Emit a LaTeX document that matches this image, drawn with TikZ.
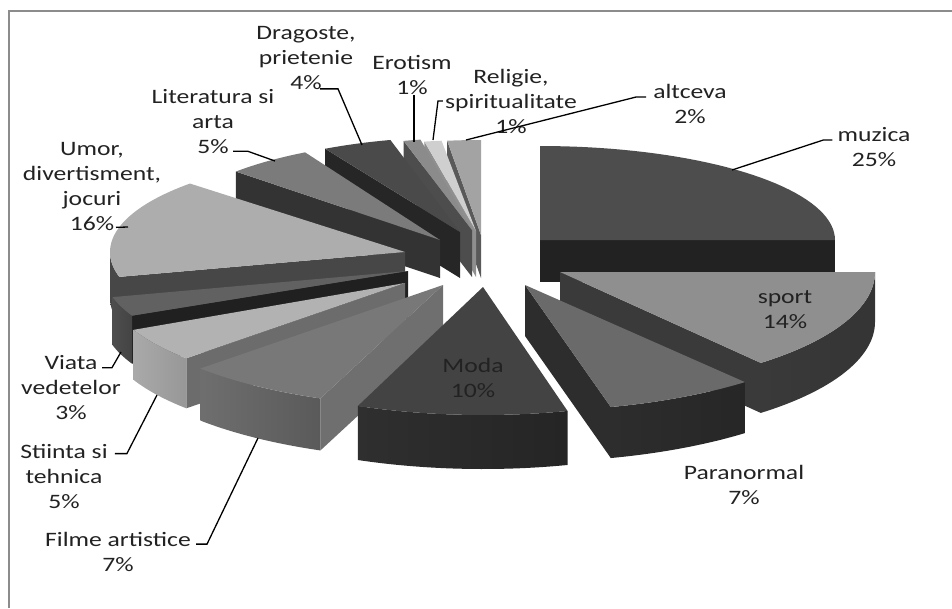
\documentclass[tikz,border=0pt]{standalone}
\usepackage{fontspec}
\setmainfont{Carlito}[FakeStretch=1.25]

\definecolor{framecol}{HTML}{8C8C8C}
\definecolor{labeltext}{HTML}{222222}
\definecolor{muztop}{HTML}{4D4D4D}\definecolor{muzface}{HTML}{222222}
\definecolor{alttop}{HTML}{A3A3A3}\definecolor{altface}{HTML}{595959}
\definecolor{reltop}{HTML}{CFCFCF}\definecolor{relface}{HTML}{8F8F8F}
\definecolor{erotop}{HTML}{8B8B8B}\definecolor{eroface}{HTML}{4D4D4D}
\definecolor{dragtop}{HTML}{4A4A4A}\definecolor{dragface}{HTML}{262626}
\definecolor{littop}{HTML}{7B7B7B}\definecolor{litface}{HTML}{333333}
\definecolor{umortop}{HTML}{ADADAD}\definecolor{umorface}{HTML}{474747}
\definecolor{viatop}{HTML}{616161}\definecolor{viaface}{HTML}{202020}
\definecolor{stitop}{HTML}{B2B2B2}\definecolor{stiface}{HTML}{6C6C6C}
\definecolor{filmtop}{HTML}{787878}\definecolor{filmface}{HTML}{6F6F6F}
\definecolor{sporttop}{HTML}{8F8F8F}\definecolor{sportface}{HTML}{3A3A3A}
\definecolor{paratop}{HTML}{6A6A6A}\definecolor{paraface}{HTML}{2D2D2D}
\definecolor{modatop}{HTML}{434343}

% slice: apex x, apex y, radius x, radius y, depth
\newcommand{\pset}[5]{\def\pcx{#1}\def\pcy{#2}\def\prx{#3}\def\pry{#4}\def\pdep{#5}}
% top face from angle #1 to #2
\newcommand{\ptop}[3]{\fill[#3] (\pcx,\pcy) -- plot[domain=#1:#2, samples=40] ({\pcx+\prx*cos(\x)},{\pcy-\pry*sin(\x)}) -- cycle;}
% cut face at angle #1
\newcommand{\pface}[2]{\fill[#2] (\pcx,\pcy) -- ({\pcx+\prx*cos(#1)},{\pcy-\pry*sin(#1)}) -- ++(0,\pdep) -- (\pcx,{\pcy+\pdep}) -- cycle;}
% outer wall from angle #1 to #2
\newcommand{\pwall}[4]{\shade[left color=#3, right color=#4] plot[domain=#1:#2, samples=40] ({\pcx+\prx*cos(\x)},{\pcy-\pry*sin(\x)}) -- plot[domain=#1:#2, samples=40] ({\pcx+\prx*cos((#1)+(#2)-\x)},{\pcy+\pdep-\pry*sin((#1)+(#2)-\x)}) -- cycle;}

\tikzset{
  lbl/.style={align=center, inner sep=0pt, text=labeltext, font=\fontsize{20.5}{25}\selectfont},
  leader/.style={draw=black, line width=1.3pt},
}

\begin{document}
\begin{tikzpicture}[x=1pt, y=-1pt]
    \useasboundingbox (0,0) rectangle (952,608);

    % Frame
    \draw[framecol, line width=2pt] (9,608) -- (9,11) -- (952,11);

    % Back slices
    \pset{540}{240}{295}{94}{42}
    \pface{0}{muzface}
    \ptop{0}{90}{muztop}

    \pset{481}{235}{270}{95}{43}
    \pface{97.2}{altface}
    \ptop{90}{97.2}{alttop}

    \pset{476}{231}{275}{91}{46}
    \pface{100.8}{relface}
    \ptop{97.2}{100.8}{reltop}

    \pset{472}{230}{275}{92}{47}
    \pface{104.4}{eroface}
    \ptop{100.8}{104.4}{erotop}

    \pset{460}{232}{280}{95}{46}
    \pface{118.8}{dragface}
    \ptop{104.4}{118.8}{dragtop}

    \pset{440}{240}{280}{100}{38}
    \pface{136.8}{litface}
    \ptop{118.8}{136.8}{littop}

    % Left slices
    \pset{405}{252}{295}{100}{46}
    \pface{-165.6}{umorface}
    \pwall{-180}{-165.6}{umorface}{umorface}
    \ptop{-223.2}{-165.6}{umortop}

    \pset{408}{271}{305}{105}{48}
    \pface{-154.8}{viaface}
    \pwall{-165.6}{-154.8}{viatop!80!black}{viatop!70!black}
    \ptop{-165.6}{-154.8}{viatop}

    \pset{405}{283}{300}{110}{50}
    \pface{-136.8}{stiface}
    \pwall{-154.8}{-136.8}{stitop!95!black}{stitop!85!black}
    \ptop{-154.8}{-136.8}{stitop}

    \pset{443}{285}{333}{122}{52}
    \pface{-111.6}{filmface}
    \pwall{-136.8}{-111.6}{filmtop!92!black}{filmtop!75!black}
    \ptop{-136.8}{-111.6}{filmtop}

    % Right slices
    \pset{560}{272}{315}{118}{50}
    \pface{-50.4}{sportface}
    \pwall{-50.4}{0}{sportface}{sportface!90!black}
    \ptop{-50.4}{0}{sporttop}

    \pset{525}{285}{345}{126}{51}
    \pface{-75.6}{paraface}
    \pwall{-75.6}{-50.4}{paraface}{paraface!85!black}
    \ptop{-75.6}{-50.4}{paratop}

    \pset{483}{287}{340}{128}{54}
    \pwall{-111.6}{-75.6}{modatop!70!black}{modatop!55!black}
    \ptop{-111.6}{-75.6}{modatop}

    % Labels
    \node[lbl] (lmuz) at (874,147) {muzica\\25\%};
    \node[lbl] (lsport) at (785,310) {sport\\14\%};
    \node[lbl] (lpara) at (744,485) {Paranormal\\7\%};
    \node[lbl] (lmoda) at (473,378) {Moda\\10\%};
    \node[lbl] (lfilme) at (118,552) {Filme artistice\\7\%};
    \node[lbl] (lstiinta) at (64,476) {Stiinta si\\tehnica\\5\%};
    \node[lbl] (lviata) at (71,388) {Viata\\vedetelor\\3\%};
    \node[lbl] (lumor) at (92,187) {Umor,\\divertisment,\\jocuri\\16\%};
    \node[lbl] (llit) at (213,122) {Literatura si\\arta\\5\%};
    \node[lbl] (ldrag) at (306,58) {Dragoste,\\prietenie\\4\%};
    \node[lbl] (lerot) at (412,75) {Erotism\\1\%};
    \node[lbl] (lrelig) at (511,101) {Religie,\\spiritualitate\\1\%};
    \node[lbl] (lalt) at (690,104) {altceva\\2\%};

    % Leader ends
    \coordinate (tmuz) at (732,170);
    \coordinate (talt) at (466,140);
    \coordinate (trelig) at (433,140);
    \coordinate (terot) at (414,142);
    \coordinate (tdrag) at (362,145);
    \coordinate (tlit) at (275,161);
    \coordinate (tumor) at (128,227);
    \coordinate (tviata) at (121,352);
    \coordinate (tstiinta) at (157,395);
    \coordinate (tfilme) at (258,438);

    % Leaders
    \draw[leader] ([xshift=-5pt,yshift=7pt]lmuz.west) -- ++(-9,0) -- (tmuz);
    \draw[leader] ([xshift=-7pt,yshift=7pt]lalt.west) -- ++(-10,0) -- (talt);
    \draw[leader] ([xshift=-2pt]lrelig.west) -- ++(-5,0) -- (trelig);
    \draw[leader] ([xshift=2pt]lerot.south) -- (terot);
    \draw[leader] ([xshift=14pt,yshift=1pt]ldrag.south) -- ++(18,0) -- (tdrag);
    \draw[leader] ([xshift=20pt,yshift=3pt]llit.south) -- ++(15,0) -- (tlit);
    \draw[leader] ([xshift=24pt,yshift=4pt]lumor.south) -- (tumor);
    \draw[leader] ([xshift=31pt,yshift=-12pt]lviata.north) -- ++(10,0) -- (tviata);
    \draw[leader] ([xshift=7pt,yshift=-10pt]lstiinta.north east) -- ++(12,0) -- (tstiinta);
    \draw[leader] ([xshift=5pt,yshift=-12pt]lfilme.north east) -- ++(11,0) -- (tfilme);
\end{tikzpicture}
\end{document}
